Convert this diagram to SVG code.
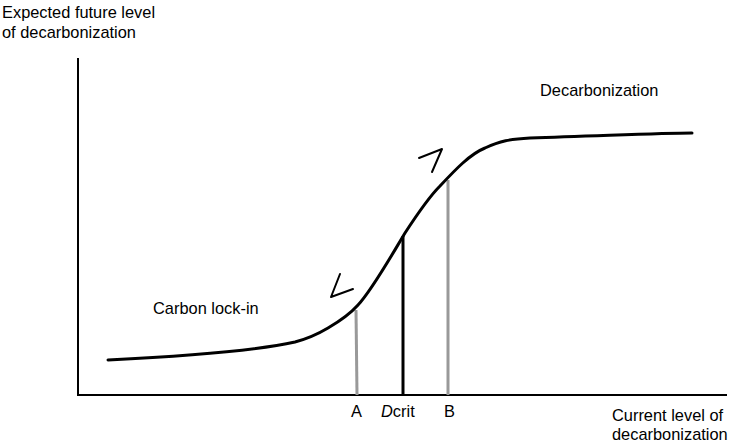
<svg xmlns="http://www.w3.org/2000/svg" width="733" height="447" viewBox="0 0 733 447">
<style>
text{font-family:"Liberation Sans",Arial,sans-serif;font-size:16.4px;fill:#000}
.ax{stroke:#000;stroke-width:2;fill:none}
.cv{stroke:#000;stroke-width:3;fill:none;stroke-linejoin:round;stroke-linecap:round}
.gl{stroke:#999;stroke-width:3}
.bl{stroke:#000;stroke-width:3}
.mk{stroke:#000;stroke-width:2;fill:none;stroke-linejoin:round;stroke-linecap:round}
</style>
<rect width="733" height="447" fill="#fff"/>
<g id="axes">
<line class="ax" x1="78" y1="58" x2="78" y2="396"/>
<line class="ax" x1="77" y1="395" x2="727" y2="395"/>
<text x="2" y="18">Expected future level</text>
<text x="2" y="38">of decarbonization</text>
<text x="612" y="421">Current level of</text>
<text x="612" y="440">decarbonization</text>
</g>
<g id="connectors">
<line class="gl" x1="356" y1="310" x2="357" y2="395"/>
<line class="bl" x1="403" y1="236" x2="403" y2="395"/>
<line class="gl" x1="448" y1="180" x2="448" y2="395"/>
</g>
<g id="curve">
<path class="cv" d="M108,360 C170,357 250,352 295,342 C310,338 318,334 328,328 C340,321 350,314 358,305 C372,290 390,258 405,233 C418,213 428,198 440,186 C455,170 470,154 485,148 C500,141 510,139 530,138 C600,136 660,133 692,133"/>
<polyline class="mk" points="340,274 331,297 353,289"/>
<polyline class="mk" points="419,158 442,149 432,172"/>
</g>
<g id="labels">
<text x="540" y="96">Decarbonization</text>
<text x="153" y="314">Carbon lock-in</text>
<text x="351" y="417">A</text>
<text x="381" y="417"><tspan font-style="italic">D</tspan>crit</text>
<text x="444" y="417">B</text>
</g>
</svg>
